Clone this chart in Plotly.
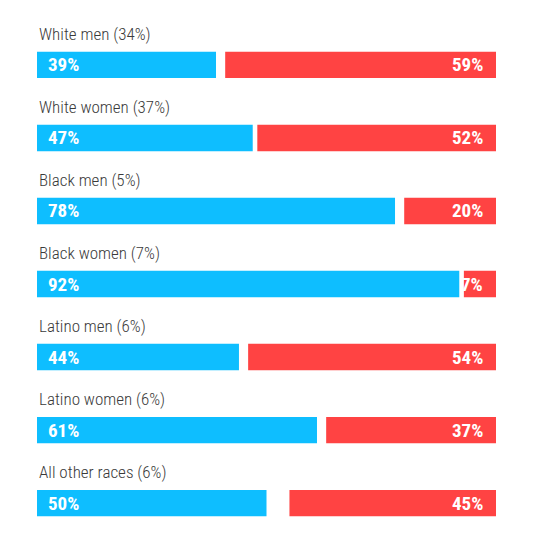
import plotly.graph_objects as go

groups = ["White men (34%)", "White women (37%)", "Black men (5%)", "Black women (7%)",
          "Latino men (6%)", "Latino women (6%)", "All other races (6%)"]
dem = [39, 47, 78, 92, 44, 61, 50]
rep = [59, 52, 20, 7, 54, 37, 45]

BLUE = "#0EBEFF"
RED = "#FF4343"
FONT = "Roboto Condensed, Liberation Sans Narrow, DejaVu Sans Condensed, Arial Narrow, Roboto, sans-serif"

idx = list(range(len(groups)))
fig = go.Figure()
fig.add_trace(go.Bar(y=idx, x=dem, base=0, orientation="h", marker=dict(color=BLUE, line_width=0),
                     width=0.36, hoverinfo="skip"))
fig.add_trace(go.Bar(y=idx, x=rep, base=[100 - r for r in rep], orientation="h",
                     marker=dict(color=RED, line_width=0), width=0.36, hoverinfo="skip"))

ann = []
for i, (g, d, r) in enumerate(zip(groups, dem, rep)):
    ann.append(dict(x=0, y=i - 0.42, xref="x", yref="y", text=g, showarrow=False, xanchor="left",
                    yanchor="middle", font=dict(family=FONT, size=17, color="#3a3a3a", weight=300)))
    ann.append(dict(x=0, y=i, xref="x", yref="y", text=f"{d}%", showarrow=False, xanchor="left",
                    xshift=9, yanchor="middle",
                    font=dict(family=FONT, size=19, color="white", weight="bold")))
    ann.append(dict(x=100, y=i, xref="x", yref="y", text=f"{r}%", showarrow=False, xanchor="right",
                    xshift=-11, yanchor="middle",
                    font=dict(family=FONT, size=19, color="white", weight="bold")))

fig.update_layout(
    width=533, height=558, margin=dict(l=37, r=37, t=0, b=0),
    paper_bgcolor="white", plot_bgcolor="white", showlegend=False, barmode="overlay",
    xaxis=dict(range=[0, 100], visible=False, fixedrange=True),
    yaxis=dict(range=[6.753, -0.890], visible=False, fixedrange=True),
    annotations=ann,
)
fig.write_html("out.html")
